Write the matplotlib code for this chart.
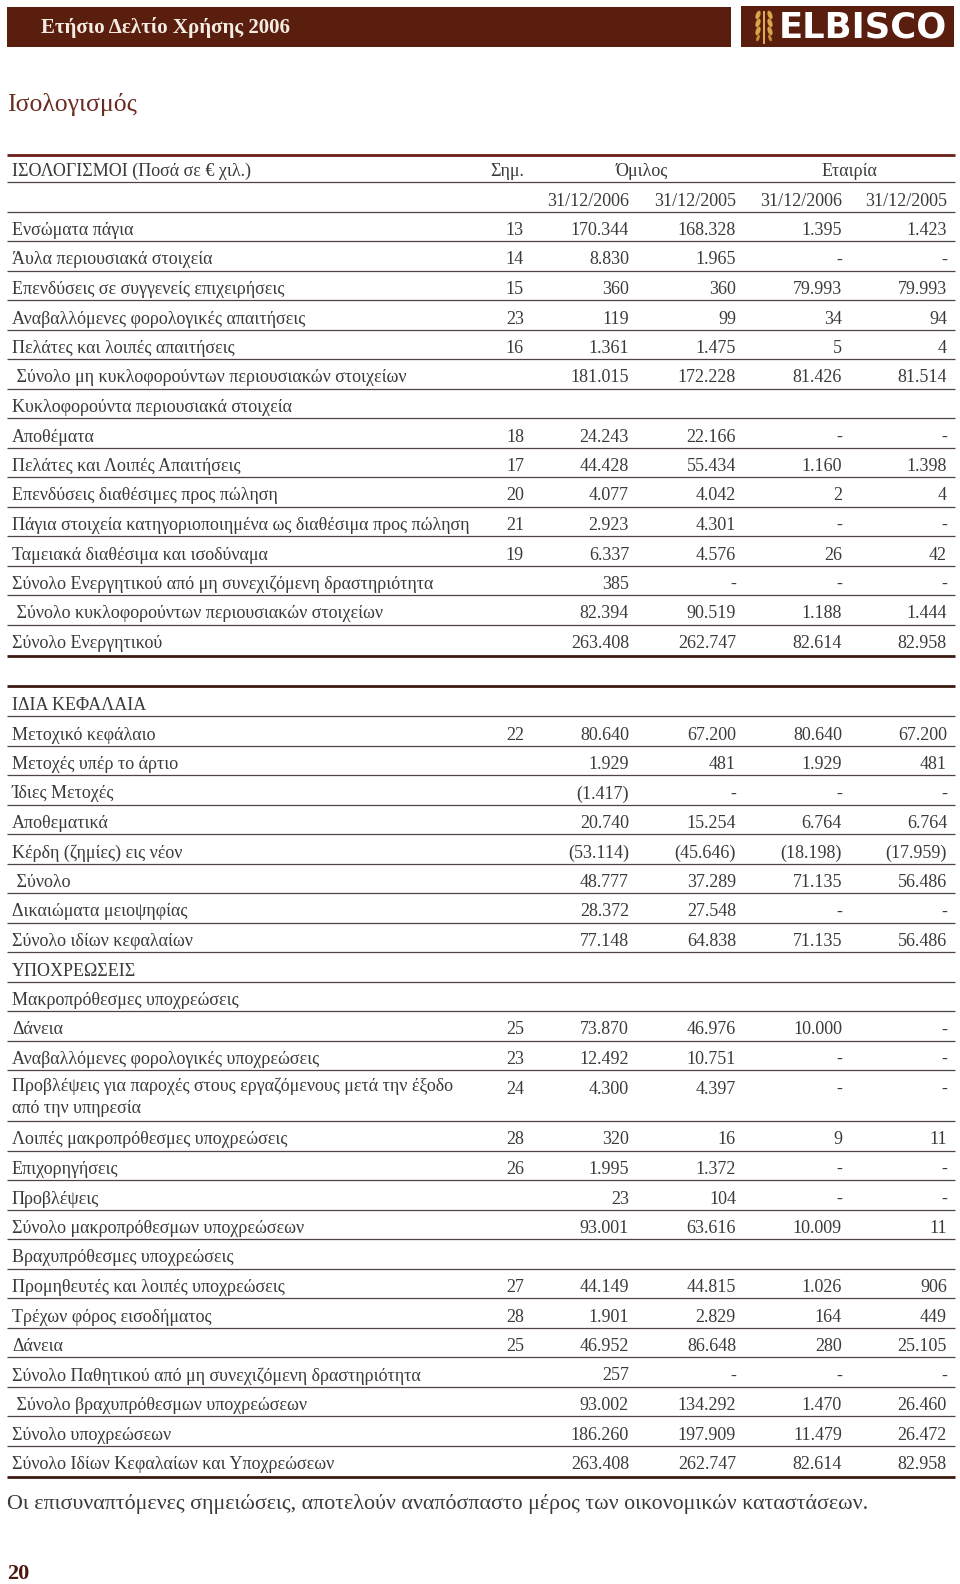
import matplotlib
matplotlib.use("Agg")
import matplotlib.pyplot as plt
from matplotlib.patches import Rectangle, Ellipse

plt.rcParams["font.family"] = ["Liberation Serif", "DejaVu Serif"]

BROWN = "#5a1e0e"
INK = "#3a3a3a"

page_title = "Ετήσιο Δελτίο Χρήσης 2006"
brand = "ELBISCO"
section_title = "Ισολογισμός"
table_caption = "ΙΣΟΛΟΓΙΣΜΟΙ (Ποσά σε € χιλ.)"
note_header = "Σημ."
group_names = ["Όμιλος", "Εταιρία"]
date_labels = ["31/12/2006", "31/12/2005", "31/12/2006", "31/12/2005"]
footnote = "Οι επισυναπτόμενες σημειώσεις, αποτελούν αναπόσπαστο μέρος των οικονομικών καταστάσεων."
page_number = "20"

# --- assets ---
asset_labels = [
    "Ενσώματα πάγια",
    "Άυλα περιουσιακά στοιχεία",
    "Επενδύσεις σε συγγενείς επιχειρήσεις",
    "Αναβαλλόμενες φορολογικές απαιτήσεις",
    "Πελάτες και λοιπές απαιτήσεις",
    " Σύνολο μη κυκλοφορούντων περιουσιακών στοιχείων",
    "Κυκλοφορούντα περιουσιακά στοιχεία",
    "Αποθέματα",
    "Πελάτες και Λοιπές Απαιτήσεις",
    "Επενδύσεις διαθέσιμες προς πώληση",
    "Πάγια στοιχεία κατηγοριοποιημένα ως διαθέσιμα προς πώληση",
    "Ταμειακά διαθέσιμα και ισοδύναμα",
    "Σύνολο Ενεργητικού από μη συνεχιζόμενη δραστηριότητα",
    " Σύνολο κυκλοφορούντων περιουσιακών στοιχείων",
    "Σύνολο Ενεργητικού",
]
asset_notes = ["13", "14", "15", "23", "16", "", "", "18", "17", "20", "21", "19", "", "", ""]
asset_grp_2006 = ["170.344", "8.830", "360", "119", "1.361", "181.015", "", "24.243", "44.428",
                  "4.077", "2.923", "6.337", "385", "82.394", "263.408"]
asset_grp_2005 = ["168.328", "1.965", "360", "99", "1.475", "172.228", "", "22.166", "55.434",
                  "4.042", "4.301", "4.576", "-", "90.519", "262.747"]
asset_co_2006 = ["1.395", "-", "79.993", "34", "5", "81.426", "", "-", "1.160",
                 "2", "-", "26", "-", "1.188", "82.614"]
asset_co_2005 = ["1.423", "-", "79.993", "94", "4", "81.514", "", "-", "1.398",
                 "4", "-", "42", "-", "1.444", "82.958"]

# --- equity and liabilities ---
liab_labels = [
    "ΙΔΙΑ ΚΕΦΑΛΑΙΑ",
    "Μετοχικό κεφάλαιο",
    "Μετοχές υπέρ το άρτιο",
    "Ίδιες Μετοχές",
    "Αποθεματικά",
    "Κέρδη (ζημίες) εις νέον",
    " Σύνολο",
    "Δικαιώματα μειοψηφίας",
    "Σύνολο ιδίων κεφαλαίων",
    "ΥΠΟΧΡΕΩΣΕΙΣ",
    "Μακροπρόθεσμες υποχρεώσεις",
    "Δάνεια",
    "Αναβαλλόμενες φορολογικές υποχρεώσεις",
    "Προβλέψεις για παροχές στους εργαζόμενους μετά την έξοδο\nαπό την υπηρεσία",
    "Λοιπές μακροπρόθεσμες υποχρεώσεις",
    "Επιχορηγήσεις",
    "Προβλέψεις",
    "Σύνολο μακροπρόθεσμων υποχρεώσεων",
    "Βραχυπρόθεσμες υποχρεώσεις",
    "Προμηθευτές και λοιπές υποχρεώσεις",
    "Τρέχων φόρος εισοδήματος",
    "Δάνεια",
    "Σύνολο Παθητικού από μη συνεχιζόμενη δραστηριότητα",
    " Σύνολο βραχυπρόθεσμων υποχρεώσεων",
    "Σύνολο υποχρεώσεων",
    "Σύνολο Ιδίων Κεφαλαίων και Υποχρεώσεων",
]
liab_notes = ["", "22", "", "", "", "", "", "", "", "", "", "25", "23", "24", "28", "26", "",
              "", "", "27", "28", "25", "", "", "", ""]
liab_grp_2006 = ["", "80.640", "1.929", "(1.417)", "20.740", "(53.114)", "48.777", "28.372",
                 "77.148", "", "", "73.870", "12.492", "4.300", "320", "1.995", "23", "93.001",
                 "", "44.149", "1.901", "46.952", "257", "93.002", "186.260", "263.408"]
liab_grp_2005 = ["", "67.200", "481", "-", "15.254", "(45.646)", "37.289", "27.548",
                 "64.838", "", "", "46.976", "10.751", "4.397", "16", "1.372", "104", "63.616",
                 "", "44.815", "2.829", "86.648", "-", "134.292", "197.909", "262.747"]
liab_co_2006 = ["", "80.640", "1.929", "-", "6.764", "(18.198)", "71.135", "-",
                "71.135", "", "", "10.000", "-", "-", "9", "-", "-", "10.009",
                "", "1.026", "164", "280", "-", "1.470", "11.479", "82.614"]
liab_co_2005 = ["", "67.200", "481", "-", "6.764", "(17.959)", "56.486", "-",
                "56.486", "", "", "-", "-", "-", "11", "-", "-", "11",
                "", "906", "449", "25.105", "-", "26.460", "26.472", "82.958"]

# layout (pixel space of the page)
W, H = 960, 1584
ROW = 29.5
EXTRA_LINE = 21.5
TEXT_DY = 4          # glyphs sit a little below the cell centre
LEFT, RIGHT = 7, 955
LABEL_X = 12
COL_RIGHT = [524, 629, 736, 842, 947]
FS = 13

fig = plt.figure(figsize=(W / 100, H / 100), dpi=100)
ax = fig.add_axes([0, 0, 1, 1])
ax.set_xlim(0, W)
ax.set_ylim(H, 0)
ax.axis("off")

# page header
ax.add_patch(Rectangle((7, 7), 724, 40, color=BROWN, lw=0))
ax.add_patch(Rectangle((741, 6), 213, 41, color=BROWN, lw=0))
ax.text(41, 28, page_title, color="#f4ece2", fontsize=15, fontweight="bold", va="center")
ax.text(779, 27, brand, color="white", fontsize=25.5, fontweight="bold",
        family="DejaVu Sans", va="center")
# wheat mark: two ears either side of a stem
for cx, ang in [(758, 20), (770, -20)]:
    for dy in (15, 23, 31):
        ax.add_patch(Ellipse((cx, dy), 4.5, 9, angle=ang, color="#d8a448", lw=0))
    ax.add_patch(Ellipse((cx, 38), 3, 7, angle=ang, color="#c89038", lw=0))
ax.plot([764, 764], [12, 43], color="#e0b058", lw=1.4)

ax.text(7, 105, section_title, color="#6b2c22", fontsize=18.5, va="center")


def hline(y, thick=False, color="#4f4440"):
    ax.plot([LEFT, RIGHT], [y, y], color=color, lw=2.0 if thick else 0.9,
            solid_capstyle="butt")


def draw_rows(y, labels, notes, g06, g05, c06, c05):
    for i, label in enumerate(labels):
        if "\n" in label:
            ax.text(LABEL_X, y - 9 + TEXT_DY / 2, label, fontsize=FS, color=INK,
                    va="top", linespacing=1.35)
        else:
            ax.text(LABEL_X, y + TEXT_DY, label, fontsize=FS, color=INK, va="center")
        for xr, val in zip(COL_RIGHT, (notes[i], g06[i], g05[i], c06[i], c05[i])):
            if val:
                ax.text(xr, y + TEXT_DY, val, fontsize=FS, color=INK, ha="right", va="center")
        step = ROW + (EXTRA_LINE if "\n" in label else 0)
        if i < len(labels) - 1:
            hline(y + step - ROW / 2)
            y += step
    return y


# table header
y_head = 167.5
hline(y_head - 13, thick=True, color="#6a1f1a")
ax.text(LABEL_X, y_head + TEXT_DY, table_caption, fontsize=FS, color=INK, va="center")
ax.text(COL_RIGHT[0], y_head + TEXT_DY, note_header, fontsize=FS, color=INK, ha="right", va="center")
ax.text(642, y_head + TEXT_DY, group_names[0], fontsize=FS, color=INK, ha="center", va="center")
ax.text(849, y_head + TEXT_DY, group_names[1], fontsize=FS, color=INK, ha="center", va="center")
hline(y_head + ROW / 2)
y_dates = y_head + ROW
for xr, d in zip(COL_RIGHT[1:], date_labels):
    ax.text(xr, y_dates + TEXT_DY, d, fontsize=FS, color=INK, ha="right", va="center")
hline(y_dates + ROW / 2)

y_end = draw_rows(y_dates + ROW, asset_labels, asset_notes, asset_grp_2006,
                  asset_grp_2005, asset_co_2006, asset_co_2005)
hline(y_end + 16, thick=True, color="#3b1a12")

y_start = y_end + 62
hline(y_start - 16, thick=True, color="#3b1a12")
y_end = draw_rows(y_start, liab_labels, liab_notes, liab_grp_2006,
                  liab_grp_2005, liab_co_2006, liab_co_2005)
hline(y_end + 16, thick=True, color="#3b1a12")

ax.text(7, y_end + 43, footnote, fontsize=15.8, color=INK, va="center")
ax.text(7, 1574, page_number, fontsize=16, fontweight="bold", color="#4a1a10", va="center")

fig.savefig("out.png", dpi=100)
